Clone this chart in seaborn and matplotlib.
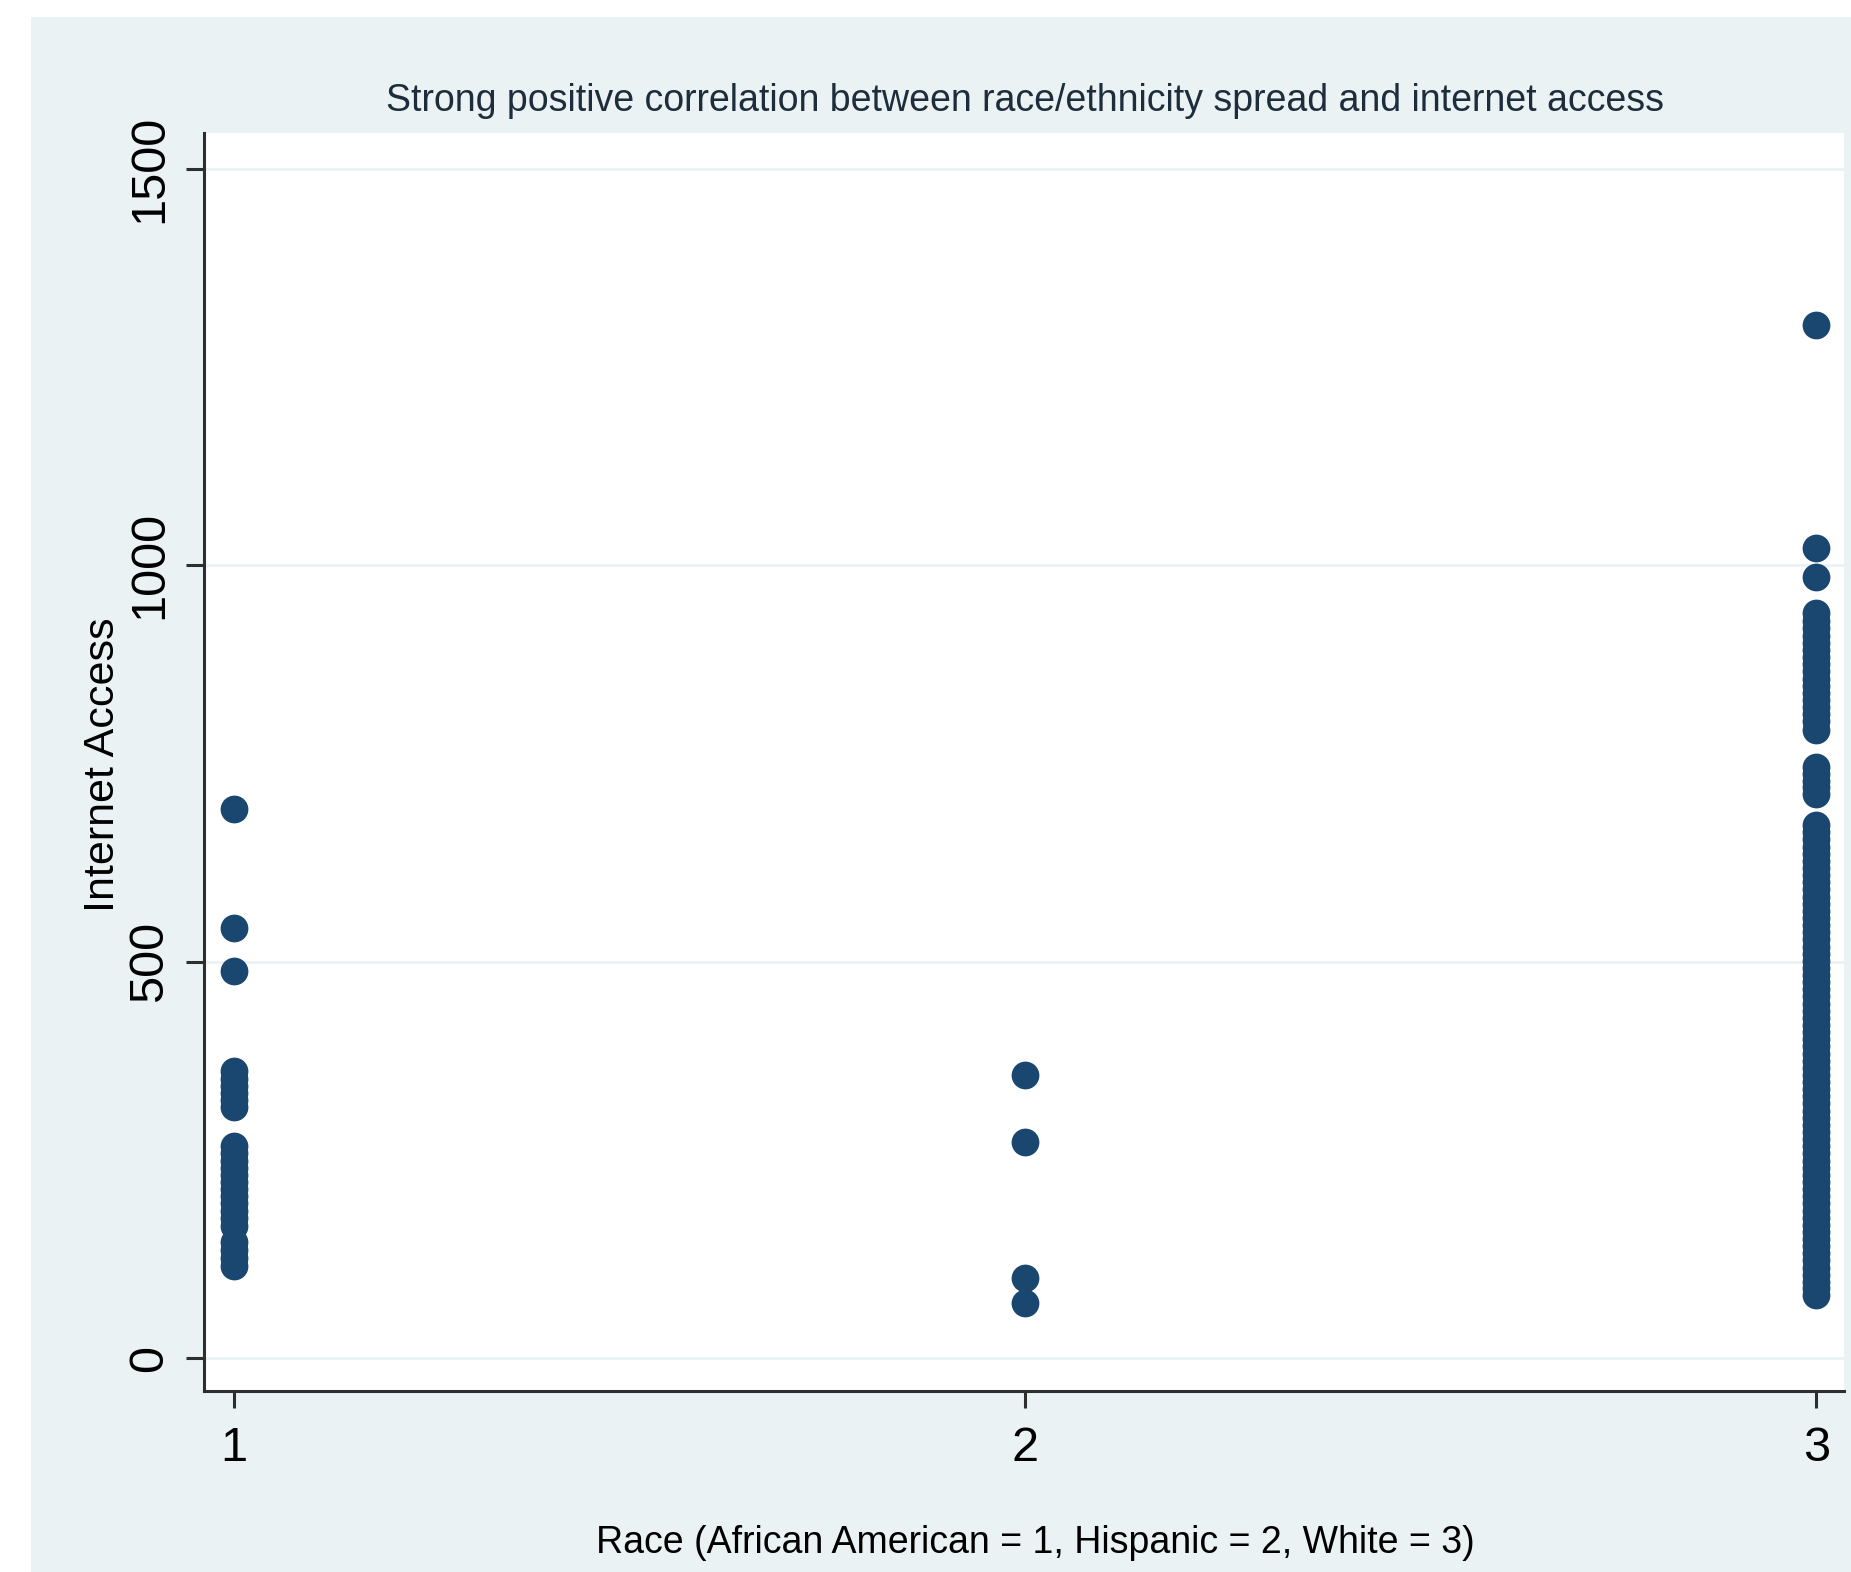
import pandas as pd
import seaborn as sns
import numpy as np
import matplotlib.pyplot as plt
from matplotlib.patches import Rectangle

# Values
race_1 = [693, 542, 488, 362, 352, 343, 334, 325, 316,
          268, 258, 249, 240, 231, 222, 213, 204, 195, 186, 177, 166,
          146, 136, 126, 116]
race_2 = [357, 272, 101, 69]
race_3 = [1303, 1022, 985,
          940, 930, 921, 911, 902, 893, 884, 875, 866, 857, 848, 839,
          830, 821, 812, 803, 792,
          745, 736, 728, 720, 711,
          672, 663, 654, 645, 636, 627, 618, 609, 600, 591, 582, 573,
          564, 555, 546, 537, 528, 519, 510, 501, 492, 483, 474, 465,
          456, 447, 438, 429, 420, 411, 402, 393, 384, 375, 366, 357,
          348, 339, 330, 321, 312, 303, 294, 285, 276, 267, 258, 249,
          240, 231, 222, 213, 204, 195, 186, 177, 168, 159, 150, 141,
          132, 123, 114, 105, 96, 88, 80]

x_ticks = [1, 2, 3]
y_ticks = [0, 500, 1000, 1500]

df = pd.DataFrame({
    'race': [1] * len(race_1) + [2] * len(race_2) + [3] * len(race_3),
    'internet': race_1 + race_2 + race_3,
})

sns.set_style('white')
plt.rcParams['font.family'] = ['Liberation Sans', 'DejaVu Sans']

navy = '#1a476f'
band = '#eaf2f3'
dark = '#2e2e2e'

fig = plt.figure(figsize=(18.51, 15.72), dpi=100)
fig.patch.set_facecolor('white')
# light outer band like the Stata graph region
fig.patches.append(Rectangle((31 / 1851, 0), 1, 1 - 17 / 1572,
                             transform=fig.transFigure, facecolor=band,
                             edgecolor='none', zorder=-5))

ax = fig.add_axes([204 / 1851, 1 - 1391 / 1572, 1640 / 1851, 1258 / 1572])
ax.set_zorder(2)
ax.set_facecolor('white')

sns.scatterplot(data=df, x='race', y='internet', ax=ax, color=navy,
                s=400, linewidth=0, zorder=3)

ax.set_xlim(0.962, 3.035)
ax.set_ylim(-41.6, 1545)
ax.set_xticks(x_ticks)
ax.set_yticks(y_ticks)
ax.set_xticklabels([str(t) for t in x_ticks])
ax.set_yticklabels([str(t) for t in y_ticks], rotation=90, va='center')

for t in y_ticks:
    ax.axhline(t, color=band, linewidth=2, zorder=1)

for side in ['top', 'right']:
    ax.spines[side].set_visible(False)
for side in ['left', 'bottom']:
    ax.spines[side].set_color(dark)
    ax.spines[side].set_linewidth(2.2)

ax.tick_params(axis='both', which='major', direction='out', color=dark,
               width=2.2, labelsize=35, labelcolor='black',
               bottom=True, left=True)
ax.tick_params(axis='y', length=13, pad=10)
ax.tick_params(axis='x', length=12, pad=13)

ax.set_title('Strong positive correlation between race/ethnicity spread and internet access',
             fontsize=27, color='#1e2d3c', x=0.5006, y=1.0255, va='center',
             pad=0)
ax.set_xlabel('Race (African American = 1, Hispanic = 2, White = 3)',
              fontsize=27, color='black', va='center')
ax.xaxis.set_label_coords(0.507, -0.1208)
ax.set_ylabel('Internet Access', fontsize=31, color='black', va='center')
ax.yaxis.set_label_coords(-0.0616, 0.498)

fig.savefig('out.png', dpi=100, facecolor=fig.get_facecolor())
